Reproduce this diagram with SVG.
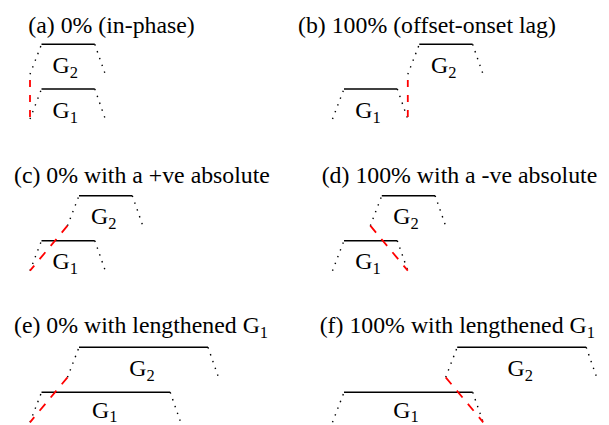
<svg xmlns="http://www.w3.org/2000/svg" width="609" height="425" viewBox="0 0 609 425">
<style>
.s{font-size:16.5px}
.top{stroke:#000;stroke-width:1.5;fill:none}
.dot{stroke:#000;stroke-width:1.4;stroke-dasharray:1.4 5.8;fill:none}
.red{stroke:#f00;stroke-width:1.8;fill:none}
.rv{stroke-dasharray:7 8;stroke-dashoffset:9.3}
.rd{stroke-dasharray:9 8.3}
</style>
<rect width="609" height="425" fill="#fff"/>
<g id="titles" font-size="23.8">
<text style="font-family:'Liberation Serif', serif" font-family="Liberation Serif" x="28.3" y="33">(a) 0% (in-phase)</text>
<text style="font-family:'Liberation Serif', serif" font-family="Liberation Serif" x="298" y="33">(b) 100% (offset-onset lag)</text>
<text style="font-family:'Liberation Serif', serif" font-family="Liberation Serif" x="14" y="182.5">(c) 0% with a +ve absolute</text>
<text style="font-family:'Liberation Serif', serif" font-family="Liberation Serif" x="321.7" y="182.5">(d) 100% with a -ve absolute</text>
<text style="font-family:'Liberation Serif', serif" font-family="Liberation Serif" x="14" y="332.5">(e) 0% with lengthened G<tspan class="s" dy="5">1</tspan></text>
<text style="font-family:'Liberation Serif', serif" font-family="Liberation Serif" x="319.7" y="332.5">(f) 100% with lengthened G<tspan class="s" dy="5">1</tspan></text>
</g>
<g id="a-G2" font-size="23.8">
<path class="dot" d="M30 74.3L41.5 44.3"/><path class="top" d="M41.5 44.3H94.8"/><path class="dot" d="M94.8 44.3L105.3 74.3"/>
<text style="font-family:'Liberation Serif', serif" font-family="Liberation Serif" x="52.5" y="73">G<tspan class="s" dy="5">2</tspan></text>
</g>
<g id="a-G1" font-size="23.8">
<path class="dot" d="M30 119L41.5 89"/><path class="top" d="M41.5 89H94.8"/><path class="dot" d="M94.8 89L105.3 119"/>
<text style="font-family:'Liberation Serif', serif" font-family="Liberation Serif" x="52.5" y="117.7">G<tspan class="s" dy="5">1</tspan></text>
</g>
<g id="b-G1" font-size="23.8">
<path class="dot" d="M332.5 119L344 89"/><path class="top" d="M344 89H397.3"/><path class="dot" d="M397.3 89L407.8 119"/>
<text style="font-family:'Liberation Serif', serif" font-family="Liberation Serif" x="355.2" y="117.7">G<tspan class="s" dy="5">1</tspan></text>
</g>
<g id="b-G2" font-size="23.8">
<path class="dot" d="M407.8 74.3L419.3 44.3"/><path class="top" d="M419.3 44.3H472.6"/><path class="dot" d="M472.6 44.3L483.1 74.3"/>
<text style="font-family:'Liberation Serif', serif" font-family="Liberation Serif" x="431" y="73">G<tspan class="s" dy="5">2</tspan></text>
</g>
<g id="c-G2" font-size="23.8">
<path class="dot" d="M67.5 225.7L79 195.7"/><path class="top" d="M79 195.7H132.3"/><path class="dot" d="M132.3 195.7L142.8 225.7"/>
<text style="font-family:'Liberation Serif', serif" font-family="Liberation Serif" x="91" y="224.4">G<tspan class="s" dy="5">2</tspan></text>
</g>
<g id="c-G1" font-size="23.8">
<path class="dot" d="M30 270.7L41.5 240.7"/><path class="top" d="M41.5 240.7H94.8"/><path class="dot" d="M94.8 240.7L105.3 270.7"/>
<text style="font-family:'Liberation Serif', serif" font-family="Liberation Serif" x="52.5" y="269.4">G<tspan class="s" dy="5">1</tspan></text>
</g>
<g id="d-G2" font-size="23.8">
<path class="dot" d="M370.3 225.7L381.8 195.7"/><path class="top" d="M381.8 195.7H435.1"/><path class="dot" d="M435.1 195.7L445.6 225.7"/>
<text style="font-family:'Liberation Serif', serif" font-family="Liberation Serif" x="393.2" y="224.4">G<tspan class="s" dy="5">2</tspan></text>
</g>
<g id="d-G1" font-size="23.8">
<path class="dot" d="M332.5 270.7L344 240.7"/><path class="top" d="M344 240.7H397.3"/><path class="dot" d="M397.3 240.7L407.8 270.7"/>
<text style="font-family:'Liberation Serif', serif" font-family="Liberation Serif" x="355.2" y="269.4">G<tspan class="s" dy="5">1</tspan></text>
</g>
<g id="e-G2" font-size="23.8">
<path class="dot" d="M67.5 377.3L79 347.3"/><path class="top" d="M79 347.3H208"/><path class="dot" d="M208 347.3L218.5 377.3"/>
<text style="font-family:'Liberation Serif', serif" font-family="Liberation Serif" x="129.2" y="376">G<tspan class="s" dy="5">2</tspan></text>
</g>
<g id="e-G1" font-size="23.8">
<path class="dot" d="M30 422.3L41.5 392.3"/><path class="top" d="M41.5 392.3H170.2"/><path class="dot" d="M170.2 392.3L180.7 422.3"/>
<text style="font-family:'Liberation Serif', serif" font-family="Liberation Serif" x="92" y="417.5">G<tspan class="s" dy="4">1</tspan></text>
</g>
<g id="f-G2" font-size="23.8">
<path class="dot" d="M445.7 377.3L457.2 347.3"/><path class="top" d="M457.2 347.3H586.2"/><path class="dot" d="M586.2 347.3L596.7 377.3"/>
<text style="font-family:'Liberation Serif', serif" font-family="Liberation Serif" x="507.5" y="376">G<tspan class="s" dy="5">2</tspan></text>
</g>
<g id="f-G1" font-size="23.8">
<path class="dot" d="M332.5 422.3L344 392.3"/><path class="top" d="M344 392.3H472.7"/><path class="dot" d="M472.7 392.3L483.2 422.3"/>
<text style="font-family:'Liberation Serif', serif" font-family="Liberation Serif" x="393.2" y="417.5">G<tspan class="s" dy="4">1</tspan></text>
</g>
<g id="connectors">
<path class="red rv" d="M30 74.3V119"/>
<path class="red rv" d="M407.8 74.3V119"/>
<path class="red rd" d="M67.5 225.7L30 270.7"/>
<path class="red rd" d="M370.3 225.7L407.8 270.7"/>
<path class="red rd" d="M67.5 377.3L30 422.3"/>
<path class="red rd" d="M445.7 377.3L483.2 422.3"/>
</g>
</svg>
